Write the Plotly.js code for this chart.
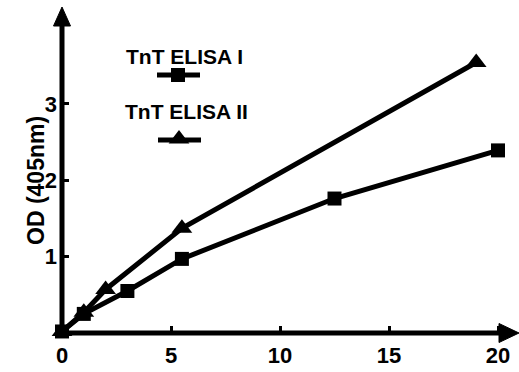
<!DOCTYPE html>
<html><head><meta charset="utf-8">
<script src="https://cdn.plot.ly/plotly-3.0.1.min.js"></script>
<style>html,body{margin:0;padding:0;background:#fff}</style>
</head><body><div id="chart" style="width:519px;height:372px"></div>
<script>
// ---- data ----
const concentration1 = [0, 1, 3, 5.5, 12.5, 20];
const odElisa1 = [0.02, 0.25, 0.55, 0.97, 1.76, 2.39];
const concentration2 = [0, 1, 2, 5.5, 19];
const odElisa2 = [0.02, 0.27, 0.57, 1.37, 3.54];
const xTickVals = [0, 5, 10, 15, 20];
const yTickVals = [1, 2, 3];
const seriesNames = ['TnT ELISA I', 'TnT ELISA II'];
const yAxisTitle = 'OD (405nm)';

// ---- layout geometry ----
const W = 519, H = 372, L = 62, R = 0, T = 8, B = 39;
const pw = W - L - R, ph = H - T - B;
const pxPerX = 21.8, pxPerY = 76.4;
const px = v => (v - L) / pw;
const py = v => (H - B - v) / ph;
const FONT = 'Liberation Sans, Arial, Helvetica, sans-serif';

const lineStyle = {color: '#000', width: 5};
const traces = [
  {x: concentration1, y: odElisa1, mode: 'lines+markers', name: seriesNames[0],
   line: lineStyle, marker: {symbol: 'square', size: 14, color: '#000'}, cliponaxis: false},
  {x: concentration2, y: odElisa2, mode: 'lines+markers', name: seriesNames[1],
   line: lineStyle, marker: {symbol: 'triangle-up', size: 18, color: '#000'}, cliponaxis: false},
  // legend samples (decoration, pixel-referenced overlay axes)
  {x: [157, 200], y: [75, 75], xaxis: 'x2', yaxis: 'y2', mode: 'lines', line: lineStyle, hoverinfo: 'skip'},
  {x: [178], y: [75], xaxis: 'x2', yaxis: 'y2', mode: 'markers', marker: {symbol: 'square', size: 14, color: '#000'}, hoverinfo: 'skip'},
  {x: [158, 201], y: [140, 140], xaxis: 'x2', yaxis: 'y2', mode: 'lines', line: lineStyle, hoverinfo: 'skip'},
  {x: [179], y: [139], xaxis: 'x2', yaxis: 'y2', mode: 'markers', marker: {symbol: 'triangle-up', size: 18, color: '#000'}, hoverinfo: 'skip'}
];

const tickFont = {family: FONT, size: 22, color: '#000', weight: 'bold'};
const layout = {
  width: W, height: H,
  margin: {l: L, r: R, t: T, b: B, pad: 0},
  paper_bgcolor: '#fff', plot_bgcolor: '#fff',
  showlegend: false,
  xaxis: {range: [0, pw / pxPerX], tickvals: xTickVals, ticktext: xTickVals.map(String),
    ticks: 'inside', ticklen: 7, tickwidth: 3, tickcolor: '#000',
    showgrid: false, zeroline: false, showline: false, tickfont: tickFont, ticklabelstandoff: 7},
  yaxis: {range: [0, ph / pxPerY], tickvals: yTickVals, ticktext: yTickVals.map(String),
    ticks: 'inside', ticklen: 7, tickwidth: 3, tickcolor: '#000',
    showgrid: false, zeroline: false, showline: false, tickfont: tickFont, ticklabelstandoff: 4},
  xaxis2: {overlaying: 'x', range: [L, W - R], visible: false, fixedrange: true},
  yaxis2: {overlaying: 'y', range: [H - B, T], visible: false, fixedrange: true},
  shapes: [
    {type: 'line', xref: 'paper', yref: 'paper', x0: px(59.5), x1: px(505), y0: py(333), y1: py(333), line: {color: '#000', width: 5}},
    {type: 'line', xref: 'paper', yref: 'paper', x0: px(62), x1: px(62), y0: py(335.5), y1: py(20), line: {color: '#000', width: 5}},
    {type: 'path', xref: 'paper', yref: 'paper', fillcolor: '#000', line: {color: '#000', width: 1},
      path: `M ${px(499)} ${py(323.5)} L ${px(519)} ${py(333)} L ${px(499)} ${py(342.5)} Z`},
    {type: 'path', xref: 'paper', yref: 'paper', fillcolor: '#000', line: {color: '#000', width: 1},
      path: `M ${px(53.5)} ${py(26)} L ${px(62)} ${py(7)} L ${px(70.5)} ${py(26)} Z`}
  ],
  annotations: [
    {xref: 'x2', yref: 'y2', x: 184, y: 56, text: seriesNames[0], showarrow: false,
      font: {family: FONT, size: 21, color: '#000', weight: 'bold'}},
    {xref: 'x2', yref: 'y2', x: 186, y: 111, text: seriesNames[1], showarrow: false,
      font: {family: FONT, size: 21, color: '#000', weight: 'bold'}},
    {xref: 'paper', yref: 'paper', x: px(21), y: py(181), text: yAxisTitle, textangle: -90, showarrow: false,
      font: {family: FONT, size: 23, color: '#000', weight: 'bold'}}
  ]
};
Plotly.newPlot('chart', traces, layout, {displayModeBar: false, staticPlot: true});
</script></body></html>
